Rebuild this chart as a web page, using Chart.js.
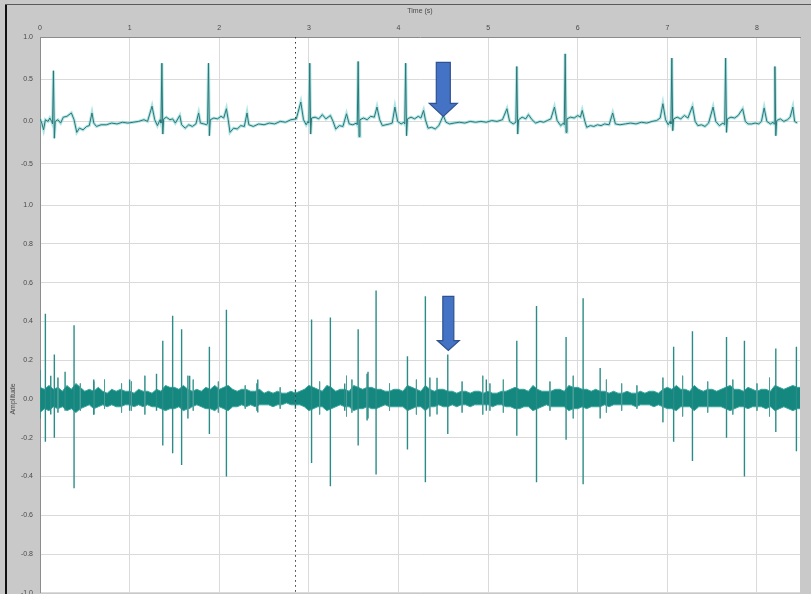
<!DOCTYPE html>
<html>
<head>
<meta charset="utf-8">
<script src="https://cdn.jsdelivr.net/npm/chart.js@4.4.0/dist/chart.umd.min.js"></script>
<style>
  html, body { margin: 0; padding: 0; background: #c9c9c9; overflow: hidden; }
  #wrap { position: relative; width: 811px; height: 594px; overflow: hidden; }
  #topChart { position: absolute; left: 0; top: 0; }
  #bottomChart { position: absolute; left: 0; top: 194px; }
  .edge-left { position: absolute; left: 5px; top: 4px; width: 2px; height: 590px; background: #111; }
  .edge-top { position: absolute; left: 5px; top: 4px; width: 806px; height: 1px; background: #5a5a5a; }
</style>
</head>
<body>
<div id="wrap">
  <canvas id="topChart" width="811" height="217"></canvas>
  <canvas id="bottomChart" width="811" height="410"></canvas>
  <div class="edge-left"></div>
  <div class="edge-top"></div>
</div>
<script>
// time axis (s)
const timeMin = 0;
const timeMax = 8.48;
const timeTicks = [0, 1, 2, 3, 4, 5, 6, 7, 8];
const topTicks = [1.0, 0.5, 0.0, -0.5];
const bottomTicks = [1.0, 0.8, 0.6, 0.4, 0.2, 0.0, -0.2, -0.4, -0.6, -0.8, -1.0];
const cursorTime = 2.84;

// top trace (ECG)
const topT = [0.00,0.02,0.04,0.06,0.09,0.11,0.13,0.14,0.15,0.16,0.17,0.20,0.23,0.26,0.30,0.35,0.38,0.41,0.44,0.48,
  0.52,0.55,0.58,0.60,0.63,0.68,0.74,0.80,0.86,0.92,0.98,1.04,1.10,1.16,1.20,1.25,1.28,1.31,1.34,1.35,
  1.36,1.37,1.38,1.41,1.45,1.48,1.51,1.56,1.58,1.62,1.66,1.70,1.74,1.77,1.79,1.83,1.86,1.87,1.88,1.89,
  1.90,1.94,1.98,2.02,2.05,2.08,2.10,2.12,2.16,2.20,2.24,2.28,2.31,2.33,2.38,2.44,2.50,2.56,2.62,2.68,
  2.74,2.80,2.86,2.91,2.94,2.97,2.99,3.00,3.01,3.02,3.03,3.07,3.11,3.15,3.19,3.24,3.27,3.30,3.34,3.38,
  3.42,3.45,3.49,3.53,3.54,3.55,3.56,3.57,3.61,3.65,3.69,3.73,3.76,3.79,3.82,3.86,3.90,3.93,3.96,3.99,
  4.03,4.06,4.07,4.08,4.09,4.10,4.14,4.18,4.22,4.25,4.28,4.30,4.33,4.37,4.41,4.45,4.50,4.53,4.57,4.62,
  4.68,4.74,4.80,4.86,4.92,4.98,5.04,5.10,5.16,5.21,5.24,5.28,5.31,5.32,5.33,5.34,5.38,5.42,5.45,5.49,
  5.53,5.58,5.62,5.66,5.70,5.74,5.77,5.81,5.84,5.85,5.86,5.87,5.88,5.92,5.96,6.00,6.03,6.05,6.08,6.10,
  6.14,6.18,6.22,6.26,6.30,6.35,6.39,6.42,6.47,6.53,6.59,6.65,6.71,6.77,6.83,6.88,6.92,6.95,6.98,7.01,
  7.03,7.04,7.05,7.06,7.07,7.11,7.15,7.19,7.23,7.28,7.31,7.34,7.38,7.42,7.46,7.51,7.54,7.58,7.62,7.64,
  7.65,7.66,7.67,7.71,7.75,7.79,7.84,7.87,7.90,7.94,7.98,8.02,8.05,8.08,8.11,8.15,8.18,8.19,8.20,8.21,
  8.22,8.26,8.30,8.34,8.37,8.40,8.42,8.45];
const topV = [0.03,-0.02,-0.10,0.02,0.00,0.04,0.00,-0.03,0.60,-0.20,0.00,0.02,-0.02,0.05,0.06,0.10,0.02,-0.13,-0.08,-0.10,
  -0.06,-0.05,0.10,-0.02,-0.06,-0.04,-0.04,-0.02,-0.03,-0.01,-0.02,-0.01,0.00,0.02,0.00,0.18,0.02,-0.05,0.02,-0.02,
  0.69,-0.15,0.03,0.05,0.02,0.03,-0.02,0.07,-0.04,-0.08,-0.04,-0.06,-0.03,0.10,-0.02,-0.03,-0.04,-0.02,0.69,-0.17,
  0.02,0.04,0.03,0.06,0.04,0.15,0.02,-0.13,-0.08,-0.09,-0.05,-0.06,0.10,-0.04,-0.06,-0.03,-0.04,-0.02,-0.03,0.00,
  -0.01,0.02,0.03,0.23,0.02,-0.04,0.00,-0.02,0.69,-0.15,0.04,0.05,0.03,0.08,0.03,0.07,0.00,-0.09,-0.05,-0.06,
  0.09,-0.03,-0.04,-0.02,-0.04,0.71,-0.18,0.02,0.04,0.02,0.06,0.05,0.17,0.02,-0.05,-0.04,-0.03,-0.02,0.17,0.00,
  -0.03,-0.01,-0.03,0.69,-0.17,0.03,0.05,0.03,0.06,0.04,0.13,0.02,-0.08,-0.07,-0.09,-0.05,0.07,-0.01,-0.03,-0.02,
  -0.01,-0.02,0.00,-0.01,0.00,-0.01,0.01,0.00,0.02,0.15,0.00,-0.03,-0.01,0.65,-0.15,0.02,0.05,0.03,0.08,0.02,
  -0.02,0.00,-0.01,0.01,0.03,0.17,0.01,-0.05,-0.02,-0.04,0.80,-0.13,0.03,0.05,0.04,0.07,0.05,0.13,0.00,-0.07,
  -0.05,-0.06,-0.04,-0.05,-0.03,-0.04,0.10,-0.03,-0.04,-0.03,-0.02,-0.03,-0.01,-0.02,0.00,0.01,0.04,0.21,0.02,-0.04,
  0.00,-0.03,0.75,-0.11,0.03,0.05,0.03,0.07,0.04,0.18,0.00,-0.05,-0.04,-0.06,-0.02,0.17,0.00,-0.05,-0.02,-0.04,
  0.75,-0.13,0.03,0.05,0.04,0.07,0.15,0.00,-0.03,-0.03,-0.02,-0.03,0.00,0.16,0.00,-0.03,-0.01,-0.03,0.65,-0.17,
  0.01,0.03,0.00,0.02,0.05,0.17,0.00,-0.02];

// bottom trace: noise envelope (every 0.05 s)
const noiseT = [0.00,0.05,0.10,0.15,0.20,0.25,0.30,0.35,0.40,0.45,0.50,0.55,0.60,0.65,0.70,0.75,0.80,0.85,0.90,0.95,
  1.00,1.05,1.10,1.15,1.20,1.25,1.30,1.35,1.40,1.45,1.50,1.55,1.60,1.65,1.70,1.75,1.80,1.85,1.90,1.95,
  2.00,2.05,2.10,2.15,2.20,2.25,2.30,2.35,2.40,2.45,2.50,2.55,2.60,2.65,2.70,2.75,2.80,2.85,2.90,2.95,
  3.00,3.05,3.10,3.15,3.20,3.25,3.30,3.35,3.40,3.45,3.50,3.55,3.60,3.65,3.70,3.75,3.80,3.85,3.90,3.95,
  4.00,4.05,4.10,4.15,4.20,4.25,4.30,4.35,4.40,4.45,4.50,4.55,4.60,4.65,4.70,4.75,4.80,4.85,4.90,4.95,
  5.00,5.05,5.10,5.15,5.20,5.25,5.30,5.35,5.40,5.45,5.50,5.55,5.60,5.65,5.70,5.75,5.80,5.85,5.90,5.95,
  6.00,6.05,6.10,6.15,6.20,6.25,6.30,6.35,6.40,6.45,6.50,6.55,6.60,6.65,6.70,6.75,6.80,6.85,6.90,6.95,
  7.00,7.05,7.10,7.15,7.20,7.25,7.30,7.35,7.40,7.45,7.50,7.55,7.60,7.65,7.70,7.75,7.80,7.85,7.90,7.95,
  8.00,8.05,8.10,8.15,8.20,8.25,8.30,8.35,8.40,8.45,8.48];
const noiseHi = [0.06,0.05,0.07,0.05,0.06,0.04,0.07,0.05,0.08,0.06,
  0.04,0.05,0.04,0.06,0.04,0.03,0.05,0.04,0.05,0.04,
  0.04,0.03,0.05,0.04,0.04,0.03,0.05,0.04,0.07,0.06,
  0.06,0.05,0.07,0.05,0.04,0.05,0.04,0.06,0.05,0.07,
  0.05,0.06,0.07,0.05,0.04,0.05,0.05,0.04,0.04,0.05,
  0.03,0.04,0.03,0.04,0.03,0.03,0.04,0.03,0.04,0.05,
  0.07,0.06,0.05,0.04,0.07,0.06,0.04,0.05,0.05,0.04,
  0.07,0.06,0.05,0.06,0.06,0.05,0.05,0.04,0.04,0.05,
  0.05,0.04,0.07,0.06,0.05,0.04,0.07,0.05,0.04,0.05,
  0.05,0.04,0.04,0.03,0.04,0.04,0.03,0.04,0.04,0.03,
  0.04,0.03,0.03,0.04,0.04,0.05,0.06,0.05,0.05,0.04,
  0.07,0.05,0.04,0.04,0.04,0.05,0.05,0.04,0.07,0.06,
  0.06,0.05,0.05,0.04,0.05,0.04,0.04,0.03,0.04,0.03,
  0.03,0.04,0.03,0.03,0.04,0.03,0.04,0.04,0.03,0.05,
  0.06,0.05,0.07,0.05,0.05,0.04,0.07,0.05,0.04,0.05,
  0.05,0.04,0.05,0.06,0.07,0.05,0.05,0.04,0.06,0.05,
  0.04,0.05,0.05,0.04,0.07,0.06,0.05,0.06,0.07,0.06,0.06];
const noiseLo = [-0.07,-0.05,-0.06,-0.04,-0.05,-0.04,-0.06,-0.05,-0.07,-0.05,
  -0.04,-0.03,-0.05,-0.04,-0.03,-0.04,-0.03,-0.04,-0.04,-0.03,
  -0.03,-0.04,-0.03,-0.04,-0.03,-0.04,-0.04,-0.05,-0.06,-0.05,
  -0.05,-0.04,-0.06,-0.05,-0.04,-0.03,-0.04,-0.05,-0.05,-0.06,
  -0.04,-0.05,-0.06,-0.04,-0.04,-0.03,-0.04,-0.03,-0.04,-0.03,
  -0.03,-0.03,-0.04,-0.03,-0.03,-0.02,-0.03,-0.03,-0.03,-0.04,
  -0.06,-0.05,-0.04,-0.04,-0.06,-0.05,-0.04,-0.03,-0.04,-0.04,
  -0.06,-0.05,-0.05,-0.04,-0.05,-0.05,-0.04,-0.03,-0.04,-0.04,
  -0.04,-0.04,-0.06,-0.05,-0.04,-0.04,-0.06,-0.04,-0.04,-0.03,
  -0.04,-0.04,-0.03,-0.04,-0.03,-0.03,-0.04,-0.03,-0.03,-0.03,
  -0.03,-0.04,-0.03,-0.03,-0.04,-0.04,-0.05,-0.05,-0.04,-0.04,
  -0.06,-0.05,-0.04,-0.03,-0.04,-0.04,-0.04,-0.04,-0.06,-0.05,
  -0.05,-0.04,-0.05,-0.04,-0.04,-0.04,-0.03,-0.04,-0.03,-0.03,
  -0.03,-0.03,-0.03,-0.04,-0.03,-0.03,-0.03,-0.04,-0.03,-0.04,
  -0.05,-0.05,-0.06,-0.04,-0.04,-0.04,-0.06,-0.04,-0.04,-0.04,
  -0.04,-0.04,-0.04,-0.05,-0.06,-0.05,-0.04,-0.04,-0.05,-0.04,
  -0.04,-0.04,-0.05,-0.04,-0.06,-0.05,-0.04,-0.05,-0.06,-0.05,-0.05];

// bottom trace: large spikes (time, upper tip, lower tip)
const spikeT = [0.00,0.06,0.12,0.16,0.28,0.38,0.60,1.00,1.30,1.37,1.48,1.58,1.67,1.89,2.08,2.43,2.85,3.03,3.24,3.40,
  3.55,3.66,3.75,4.10,4.30,4.43,4.55,4.98,5.32,5.54,5.87,6.06,6.25,7.07,7.28,7.66,7.86,8.21,8.44];
const spikeUp = [0.15,0.44,0.12,0.23,0.14,0.38,0.10,0.10,0.13,0.30,0.43,0.36,0.12,0.27,0.46,0.10,0.05,0.41,0.42,0.08,
  0.36,0.14,0.56,0.22,0.53,0.11,0.23,0.10,0.30,0.48,0.32,0.52,0.16,0.27,0.35,0.32,0.30,0.26,0.27];
const spikeDown = [-0.10,-0.22,-0.08,-0.20,-0.06,-0.46,-0.08,-0.06,-0.06,-0.24,-0.28,-0.34,-0.05,-0.18,-0.40,-0.07,-0.05,-0.33,-0.45,-0.06,
  -0.24,-0.10,-0.39,-0.26,-0.43,-0.08,-0.18,-0.06,-0.19,-0.43,-0.21,-0.44,-0.10,-0.22,-0.32,-0.20,-0.40,-0.17,-0.27];

// bottom trace: small spikes sticking out of the noise
const minorT = [0.20,0.45,0.60,0.72,0.91,1.02,1.17,1.65,1.71,1.99,2.29,2.42,2.68,3.12,3.42,3.48,3.65,3.90,4.20,4.35,
  4.71,4.94,5.02,5.17,5.69,5.95,6.32,6.49,6.66,6.95,7.17,7.45,7.73,8.00,8.14];
const minorUp = [0.11,0.08,0.09,0.10,0.08,0.09,0.12,0.12,0.10,0.09,0.07,0.08,0.06,0.09,0.12,0.10,0.13,0.08,0.10,0.11,
  0.09,0.12,0.08,0.10,0.09,0.12,0.10,0.08,0.07,0.11,0.12,0.09,0.10,0.08,0.11];
const minorDown = [-0.07,-0.06,-0.08,-0.05,-0.07,-0.06,-0.08,-0.10,-0.06,-0.07,-0.05,-0.06,-0.05,-0.08,-0.09,-0.07,-0.11,-0.06,-0.08,-0.09,
  -0.07,-0.08,-0.06,-0.07,-0.06,-0.10,-0.07,-0.06,-0.05,-0.12,-0.09,-0.07,-0.08,-0.06,-0.09];

// arrow markers (time, tip value, tail value)
const topArrow = { t: 4.50, tip: 0.06, tail: 0.70 };
const bottomArrow = { t: 4.556, tip: 0.25, tail: 0.53 };

const labelFont = { family: 'Liberation Sans, Arial, sans-serif', size: 7 };
const labelColor = '#4a4a4a';
const gridColor = '#dadada';

function drawArrow(ctx, x, yTip, yTail, shaftW, headW, headLen) {
    const yHead = yTip - headLen;
    ctx.save();
    ctx.beginPath();
    ctx.moveTo(x - shaftW / 2, yTail);
    ctx.lineTo(x + shaftW / 2, yTail);
    ctx.lineTo(x + shaftW / 2, yHead);
    ctx.lineTo(x + headW / 2, yHead);
    ctx.lineTo(x, yTip);
    ctx.lineTo(x - headW / 2, yHead);
    ctx.lineTo(x - shaftW / 2, yHead);
    ctx.closePath();
    ctx.fillStyle = '#4472c4';
    ctx.fill();
    ctx.strokeStyle = '#2f528f';
    ctx.lineWidth = 1.2;
    ctx.stroke();
    ctx.restore();
}

const panelPlugin = {
    id: 'panel',
    beforeDraw(chart) {
        const a = chart.chartArea;
        const ctx = chart.ctx;
        ctx.save();
        ctx.fillStyle = '#ffffff';
        ctx.fillRect(a.left, a.top, a.right - a.left, a.bottom - a.top);
        ctx.restore();
    },
    afterDatasetsDraw(chart, args, opts) {
        const a = chart.chartArea;
        const ctx = chart.ctx;
        const x = chart.scales.x;
        const y = chart.scales.y;
        // dotted cursor line
        const cx = Math.round(x.getPixelForValue(cursorTime)) + 0.5;
        ctx.save();
        ctx.strokeStyle = '#333';
        ctx.lineWidth = 1;
        ctx.setLineDash([1.5, 3.5]);
        ctx.beginPath();
        ctx.moveTo(cx, a.top);
        ctx.lineTo(cx, a.bottom);
        ctx.stroke();
        ctx.restore();
        const ar = opts.arrow;
        if (ar) {
            drawArrow(ctx, x.getPixelForValue(ar.t), y.getPixelForValue(ar.tip),
                y.getPixelForValue(ar.tail), opts.shaft, opts.head, opts.headLen);
        }
    }
};

function xScale(showLabels) {
    return {
        type: 'linear',
        position: 'top',
        min: timeMin,
        max: timeMax,
        afterBuildTicks: s => { s.ticks = timeTicks.map(v => ({ value: v })); },
        afterFit: s => { s.height = showLabels ? 37 : 0; },
        grid: { color: gridColor, drawTicks: false },
        border: { display: showLabels, color: '#8c8c8c' },
        ticks: {
            display: showLabels, font: labelFont, color: labelColor, padding: 5,
            maxRotation: 0, autoSkip: false, callback: v => String(v)
        },
        title: {
            display: showLabels, text: 'Time (s)', font: labelFont, color: labelColor,
            padding: { top: 7, bottom: 0 }
        }
    };
}

function yScale(tickList, withTitle) {
    return {
        type: 'linear',
        min: -1,
        max: 1,
        afterBuildTicks: s => { s.ticks = tickList.map(v => ({ value: v })); },
        afterFit: s => { s.width = 40; },
        grid: { color: gridColor, drawTicks: false },
        border: { color: '#8c8c8c' },
        ticks: { font: labelFont, color: labelColor, padding: 7, callback: v => v.toFixed(1) },
        title: {
            display: withTitle, text: 'Amplitude', font: labelFont, color: labelColor,
            padding: { top: 9, bottom: 0 }
        }
    };
}

function spikeSegments(times, ups, downs) {
    return times.flatMap((t, i) => [
        { x: t, y: ups[i] }, { x: t, y: downs[i] }, { x: t, y: null }
    ]);
}

const topPoints = topT.map((t, i) => ({ x: t, y: topV[i] }));

new Chart(document.getElementById('topChart'), {
    type: 'line',
    data: {
        datasets: [
            { data: topPoints, borderColor: '#2e7676', borderWidth: 1, pointRadius: 0, tension: 0 },
            { data: topPoints, borderColor: 'rgba(125,212,212,0.6)', borderWidth: 3, pointRadius: 0, tension: 0 }
        ]
    },
    options: {
        responsive: false,
        animation: false,
        devicePixelRatio: 1,
        layout: { padding: { left: 0, right: 11, top: 0, bottom: 0 } },
        plugins: {
            legend: { display: false },
            tooltip: { enabled: false },
            panel: { arrow: topArrow, shaft: 14, head: 28, headLen: 13 }
        },
        scales: { x: xScale(true), y: yScale(topTicks, false) }
    },
    plugins: [panelPlugin]
});

new Chart(document.getElementById('bottomChart'), {
    type: 'line',
    data: {
        datasets: [
            { data: spikeSegments(spikeT, spikeUp, spikeDown), borderColor: '#2b8c87', borderWidth: 1.4,
              pointRadius: 0, tension: 0, spanGaps: false },
            { data: spikeSegments(minorT, minorUp, minorDown), borderColor: '#4c9e99', borderWidth: 1,
              pointRadius: 0, tension: 0, spanGaps: false },
            { data: noiseT.map((t, i) => ({ x: t, y: noiseHi[i] })), borderColor: '#3aa6a0', borderWidth: 1,
              pointRadius: 0, tension: 0, fill: false },
            { data: noiseT.map((t, i) => ({ x: t, y: noiseLo[i] })), borderColor: '#3aa6a0', borderWidth: 1,
              pointRadius: 0, tension: 0, fill: '-1', backgroundColor: '#14877f' }
        ]
    },
    options: {
        responsive: false,
        animation: false,
        devicePixelRatio: 1,
        layout: { padding: { left: 0, right: 11, top: 10, bottom: 11 } },
        plugins: {
            legend: { display: false },
            tooltip: { enabled: false },
            panel: { arrow: bottomArrow, shaft: 11, head: 22, headLen: 10 }
        },
        scales: { x: xScale(false), y: yScale(bottomTicks, true) }
    },
    plugins: [panelPlugin]
});
</script>
</body>
</html>
